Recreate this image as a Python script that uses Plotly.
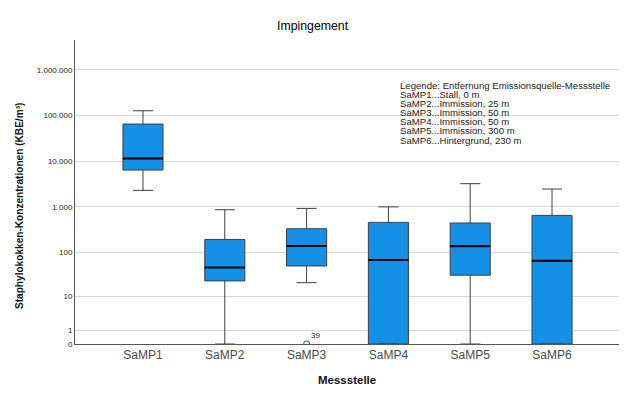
import numpy as np
import plotly.graph_objects as go

categories = ["SaMP1", "SaMP2", "SaMP3", "SaMP4", "SaMP5", "SaMP6"]
lower_whisker = [2300, 0, 21, 0, 0, 0]
q1_values = [6400, 23, 50, 0, 31, 0]
median_values = [11400, 46, 138, 68, 136, 65]
q3_values = [65000, 193, 332, 457, 443, 650]
upper_whisker = [127000, 867, 926, 1000, 3220, 2460]
outlier_cat = ["SaMP3"]
outlier_val = [0]
outlier_label = ["39"]
tick_values = [0, 1, 10, 100, 1000, 10000, 100000, 1000000]
tick_labels = ["0", "1", "10", "100", "1.000", "10.000", "100.000", "1.000.000"]
legend_lines = [
    "Legende: Entfernung Emissionsquelle-Messstelle",
    "SaMP1...Stall, 0 m",
    "SaMP2...Immission, 25 m",
    "SaMP3...Immission, 50 m",
    "SaMP4...Immission, 50 m",
    "SaMP5...Immission, 300 m",
    "SaMP6...Hintergrund, 230 m",
]


def tr(v):
    return np.log10(np.asarray(v, dtype=float) + 1.0)


xs = np.arange(len(categories))
FONT = "Liberation Sans, Arial, sans-serif"
BOX_W = 0.49
PW, PH = 545, 304  # plot area size in px
L, T = 75, 40      # plot area origin in page px

fig = go.Figure()
fig.add_trace(go.Box(
    x=xs,
    q1=tr(q1_values), median=tr(median_values), q3=tr(q3_values),
    lowerfence=tr(lower_whisker), upperfence=tr(upper_whisker),
    width=BOX_W, whiskerwidth=0.5,
    fillcolor="#1490E6", line=dict(color="#3f3f3f", width=1),
    boxpoints=False, showlegend=False, hoverinfo="skip",
))

mx, my = [], []
for i, m in zip(xs, tr(median_values)):
    mx += [i - BOX_W / 2, i + BOX_W / 2, None]
    my += [m, m, None]
fig.add_trace(go.Scatter(x=mx, y=my, mode="lines",
                         line=dict(color="#000000", width=2),
                         showlegend=False, hoverinfo="skip"))

ox = [categories.index(c) for c in outlier_cat]
fig.add_trace(go.Scatter(x=ox, y=tr(outlier_val), mode="markers",
                         marker=dict(symbol="circle-open", size=6,
                                     color="#444444", line=dict(width=1)),
                         showlegend=False, hoverinfo="skip", cliponaxis=True))
for xo, yo, lab in zip(ox, tr(outlier_val), outlier_label):
    fig.add_annotation(x=xo, y=yo, text=lab, showarrow=False,
                       xshift=9, yshift=9, font=dict(family=FONT, size=8, color="#222"))


def px(x):
    return (x - L) / PW


def py(y):
    return (T + PH - y) / PH


for k, line in enumerate(legend_lines):
    fig.add_annotation(xref="paper", yref="paper",
                       x=px(398), y=py(85 + 9.2 * k),
                       xanchor="left", yanchor="middle", text=line,
                       showarrow=False, font=dict(family=FONT, size=9.6, color="#222"))

fig.add_annotation(xref="paper", yref="paper", x=px(19), y=py(206),
                   text="<b>Staphylokokken-Konzentrationen (KBE/m³)</b>", textangle=-90,
                   showarrow=False, xanchor="center", yanchor="middle",
                   font=dict(family=FONT, size=10.1, color="#111"))
fig.add_annotation(xref="paper", yref="paper", x=px(347), y=py(380),
                   text="<b>Messstelle</b>", showarrow=False,
                   xanchor="center", yanchor="middle",
                   font=dict(family=FONT, size=11.5, color="#111"))
fig.add_annotation(xref="paper", yref="paper", x=px(313), y=py(26),
                   text="Impingement", showarrow=False,
                   xanchor="center", yanchor="middle",
                   font=dict(family=FONT, size=12.3, color="#000"))

# page body has an 8px margin: compensate so the plot area lands at (75..620, 40..344)
fig.update_layout(
    width=619, height=389,
    margin=dict(l=L - 8, r=7, t=T - 8, b=389 - (T - 8) - PH),
    paper_bgcolor="white", plot_bgcolor="white",
    font=dict(family=FONT),
    xaxis=dict(range=[-0.831, len(categories) - 1 + 0.831],
               tickvals=xs, ticktext=categories, showgrid=False, zeroline=False,
               showline=True, linecolor="#555555", linewidth=1, ticks="",
               tickfont=dict(family=FONT, size=12, color="#4a4a4a")),
    yaxis=dict(range=[0, PH / 45.7], tickvals=tr(tick_values), ticktext=tick_labels,
               showgrid=True, gridcolor="#d9d9d9", gridwidth=1, zeroline=False,
               showline=True, linecolor="#555555", linewidth=1, ticks="",
               tickfont=dict(family=FONT, size=8, color="#222222")),
)

fig.write_html("out.html")
